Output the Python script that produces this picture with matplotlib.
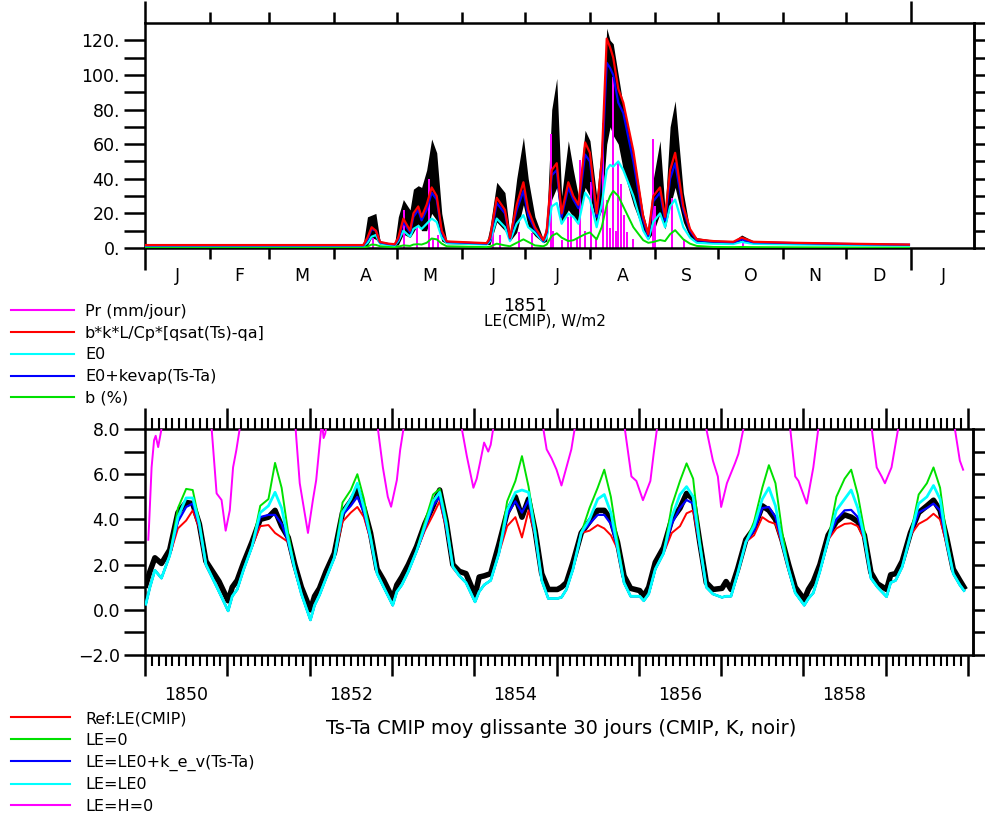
import numpy as np
import matplotlib
matplotlib.use("Agg")
import matplotlib.pyplot as plt
import matplotlib.transforms as mtransforms
from matplotlib.lines import Line2D

plt.rcParams["font.family"] = "DejaVu Sans"

# ----- top panel : LE 1851, x = days since 1 Jan 1851 -----
le_day = [0, 104, 106, 108, 110, 112, 116, 119,
          120.7, 123.1, 126.3, 127.9, 130.2, 131.8, 134.2, 136.6, 139, 141.4, 143.8,
          162.8, 164.4, 167.6, 171.5, 173.9, 177.1, 180.3, 182.6, 185.8, 189.8,
          191.4, 193.8, 196.2, 198.5, 201.7, 204.1, 206.5, 209.7, 212, 215.2,
          217.6, 220, 221.6, 223.1, 225.5, 227.9, 232.7, 237.4, 239.8,
          242.2, 245.4, 247.8, 250.2, 252.6, 256.5, 259.7, 262.9,
          270.8, 280.3, 284.3, 289.9, 310, 340, 364]
le_black_top = [2.2, 2.2, 18, 19, 20, 4, 3, 2.8,
                18, 28, 22, 34, 36, 35, 45, 63, 55, 20, 4,
                3.2, 12, 38, 32, 8, 40, 64, 40, 18, 5,
                15, 80, 98, 30, 62, 45, 30, 68, 62, 30,
                60, 127, 120, 118, 100, 82, 55, 20, 9,
                40, 62, 22, 70, 85, 32, 10, 6,
                4.5, 4, 7.5, 4, 3.2, 2.7, 2.4]
le_black_low = [1.0, 1.0, 1.5, 6, 5, 2, 1.8, 1.5,
                1.8, 8, 6, 9, 14, 10, 10, 20, 16, 4, 2.5,
                2.0, 2, 15, 10, 4, 9, 25, 12, 7, 3,
                4, 28, 35, 14, 22, 18, 15, 35, 30, 14,
                22, 60, 70, 65, 60, 45, 25, 10, 5,
                9, 20, 11, 24, 35, 15, 6, 3.5,
                3, 2.8, 4, 2.8, 2.2, 1.8, 1.5]
le_red = [1.7, 1.7, 6, 12, 10, 3.5, 2.5, 2.2,
          6, 17, 10, 20, 24, 18, 25, 35, 30, 10, 3.8,
          2.8, 6, 29, 22, 6, 25, 38, 22, 12, 4.5,
          10, 45, 49, 20, 38, 30, 25, 61, 55, 20,
          50, 121, 116, 110, 92, 84, 56, 18, 8,
          30, 35, 18, 45, 55, 24, 11, 5,
          4, 3.6, 6, 3.6, 3.0, 2.4, 2.0]
le_blue = [1.5, 1.5, 5, 11, 10, 3.2, 2.3, 2.0,
           5, 15, 9, 18, 22, 16, 22, 32, 28, 9, 3.5,
           2.5, 5, 26, 20, 5.5, 22, 33, 19, 11, 4,
           9, 42, 45, 18, 35, 28, 23, 54, 50, 18,
           45, 107, 104, 100, 84, 78, 50, 16, 7,
           27, 32, 16, 40, 49, 22, 10, 4.5,
           3.7, 3.3, 5, 3.3, 2.8, 2.2, 1.9]
le_cyan = [1.2, 1.2, 3, 6.5, 7.5, 2.5, 1.8, 1.5,
           4, 10, 6.5, 11, 12.7, 11, 14, 17, 15, 6, 2.8,
           2.0, 4, 17, 12, 4, 14, 19, 12, 9, 3.5,
           6, 24, 26, 14, 20, 18, 14, 32, 28, 12,
           25, 45, 48, 47, 50, 45, 30, 10, 5,
           15, 20, 12, 24, 28, 12, 6, 3,
           2.5, 2.3, 3.5, 2.4, 2.0, 1.7, 1.4]
le_green = [0.3, 0.3, 0.8, 2, 1.8, 1, 0.6, 0.5,
            0.8, 1.5, 1.2, 2, 2.2, 2, 3, 5.5, 5, 2.5, 1,
            0.5, 0.8, 2.5, 1.5, 1, 3, 5, 3.5, 1.5, 1,
            2, 7, 8.5, 6, 4, 4.5, 6, 8, 9, 5,
            12, 25, 30, 33, 30, 24, 12, 4.5, 3,
            3.5, 4.6, 4, 8, 10.3, 5, 2.5, 1.2,
            0.6, 0.5, 0.6, 0.5, 0.4, 0.3, 0.3]
pr_day = [108.6, 123.4, 129.6, 135.3, 137.2, 139.6, 165.8, 169.2, 178.2, 184.4,
          193.5, 194.4, 198.7, 201.6, 203.0, 205.9, 207.3, 209.7, 212.5, 214.9,
          218.2, 220.1, 221.6, 223.0, 224.4, 225.4, 226.8, 228.2, 229.7, 232.5,
          242.1, 243.0, 251.1, 256.8, 285.0]
pr_val = [5.5, 22, 12, 40, 5.6, 7.5, 9, 7.5, 9, 8.5,
          66, 10, 4.6, 18, 19, 5, 51, 10, 38, 6.5,
          72, 28, 11.5, 99, 10, 50, 37, 19, 9, 5,
          63, 24, 29, 5, 5]

month_bounds = [0, 31, 59, 90, 120, 151, 181, 212, 243, 273, 304, 334, 365]
month_names = ["J", "F", "M", "A", "M", "J", "J", "A", "S", "O", "N", "D", "J"]

# ----- bottom panel : Ts-Ta 30-day running mean, 1850-1859 -----
years = list(range(1850, 1860))
year_frac = [0.01, 0.06, 0.12, 0.2, 0.3, 0.4, 0.5, 0.58, 0.66, 0.74, 0.82, 0.9]
summer_idx = [5, 6, 7, 8, 9]
t_end = 1859.95

tsta_cyan = [
    [0.25, 1.0, 1.75, 1.4, 2.4, 4.1, 4.95, 4.95, 3.8, 2.0, 1.4, 0.8],
    [-0.05, 0.6, 0.9, 1.8, 2.8, 4.3, 4.6, 5.2, 4.5, 3.1, 1.8, 0.7],
    [-0.45, 0.2, 0.65, 1.4, 2.3, 4.3, 4.9, 5.6, 4.5, 3.2, 1.6, 1.0],
    [0.2, 0.8, 1.1, 1.7, 2.6, 3.7, 4.8, 5.2, 3.8, 1.9, 1.5, 1.2],
    [0.35, 0.8, 1.1, 1.3, 2.5, 4.4, 5.2, 5.3, 5.2, 3.4, 1.3, 0.5],
    [0.5, 0.55, 0.9, 1.8, 3.4, 4.0, 4.9, 5.1, 4.3, 2.8, 1.2, 0.6],
    [0.6, 0.4, 0.7, 1.8, 2.5, 4.1, 5.1, 5.45, 5.0, 2.9, 1.0, 0.7],
    [0.55, 0.6, 0.6, 1.6, 3.0, 3.7, 4.9, 5.4, 4.6, 3.0, 1.8, 0.75],
    [0.2, 0.5, 0.75, 1.7, 3.1, 4.4, 4.9, 5.3, 4.5, 3.2, 1.4, 1.0],
    [0.58, 1.2, 1.3, 1.9, 3.3, 4.7, 5.0, 5.5, 4.9, 3.0, 1.6, 1.1],
]
tsta_cyan_end = 0.85
tsta_black = [
    [1.1, 1.7, 2.3, 2.05, 2.65, 4.3, 4.75, 4.7, 3.8, 2.15, 1.7, 1.25],
    [0.4, 1.0, 1.3, 2.1, 3.0, 4.0, 4.1, 4.4, 3.7, 3.2, 2.0, 1.0],
    [0.0, 0.6, 0.95, 1.7, 2.5, 4.3, 4.8, 5.3, 4.5, 3.4, 1.8, 1.3],
    [0.5, 1.1, 1.45, 2.0, 2.8, 3.8, 4.6, 5.3, 3.9, 2.0, 1.7, 1.6],
    [0.65, 1.45, 1.5, 1.6, 2.9, 4.3, 5.0, 4.1, 4.9, 3.5, 1.6, 0.9],
    [0.9, 1.0, 1.2, 2.1, 3.4, 3.9, 4.4, 4.4, 4.0, 3.0, 1.5, 0.95],
    [0.85, 0.6, 1.0, 2.1, 2.75, 4.0, 4.5, 5.15, 4.9, 3.0, 1.2, 0.9],
    [0.95, 1.25, 0.9, 1.8, 3.1, 3.6, 4.6, 4.4, 4.0, 3.1, 2.0, 1.0],
    [0.45, 0.9, 1.25, 2.0, 3.3, 3.9, 4.2, 4.1, 3.9, 3.3, 1.65, 1.15],
    [0.9, 1.55, 1.6, 2.15, 3.4, 4.3, 4.6, 4.85, 4.4, 3.2, 1.8, 1.3],
]
tsta_black_end = 1.0
# summer values (fractions 0.4 .. 0.74) where the runs separate
tsta_red_summer = [
    [3.6, 3.95, 4.4, 3.6, 1.95], [3.7, 3.75, 3.4, 3.2, 3.0], [3.9, 4.3, 4.55, 4.1, 3.1],
    [3.5, 4.2, 4.8, 3.6, 1.85], [3.7, 4.1, 3.2, 4.4, 3.3], [3.5, 3.75, 3.6, 3.3, 2.7],
    [3.4, 3.7, 4.27, 4.4, 2.8], [3.3, 4.1, 3.9, 3.8, 2.9], [3.6, 3.8, 3.83, 3.7, 3.1],
    [3.8, 4.0, 4.25, 4.0, 2.9],
]
tsta_blue_summer = [
    [3.9, 4.55, 4.7, 3.7, 2.0], [4.1, 4.2, 4.2, 3.8, 3.0], [4.2, 4.6, 5.0, 4.3, 3.15],
    [3.6, 4.6, 5.0, 3.7, 1.9], [4.2, 4.8, 4.3, 4.85, 3.35], [3.8, 4.2, 4.2, 3.8, 2.75],
    [3.8, 4.5, 4.86, 4.7, 2.85], [3.5, 4.5, 4.55, 4.1, 2.95], [4.0, 4.4, 4.42, 4.1, 3.15],
    [4.3, 4.5, 4.7, 4.4, 2.95],
]
tsta_green_summer = [
    [4.5, 5.35, 5.3, 3.9, 2.05], [4.6, 4.9, 6.5, 5.4, 3.4], [4.75, 5.3, 6.0, 4.9, 3.3],
    [3.9, 5.1, 5.35, 4.0, 1.95], [4.8, 5.7, 6.8, 5.45, 3.6], [4.5, 5.4, 6.2, 5.0, 3.1],
    [4.6, 5.7, 6.48, 5.8, 3.1], [3.9, 5.4, 6.4, 5.6, 3.5], [5.0, 5.8, 6.2, 5.1, 3.5],
    [5.1, 5.6, 6.3, 5.4, 3.2],
]
# LE=H=0 run, only visible in winter (nan = above the frame)
lehz_t = [1850.04, 1850.05, 1850.08, 1850.11, 1850.13, 1850.16, 1850.18, 1850.2, np.nan,
          1850.81, 1850.87, 1850.93, 1850.98, 1851.03, 1851.07, 1851.11, 1851.15, np.nan,
          1851.83, 1851.88, 1851.98, 1852.04, 1852.08, 1852.14, 1852.15, 1852.17, 1852.19, 1852.21, np.nan,
          1852.83, 1852.89, 1852.95, 1852.99, 1853.06, 1853.1, 1853.14, np.nan,
          1853.85, 1853.91, 1853.99, 1854.03, 1854.07, 1854.12, 1854.17, 1854.2, 1854.23, np.nan,
          1854.84, 1854.88, 1854.94, 1855.0, 1855.06, 1855.12, 1855.18, 1855.22, np.nan,
          1855.83, 1855.91, 1855.97, 1856.05, 1856.14, 1856.18, 1856.22, np.nan,
          1856.82, 1856.9, 1856.96, 1857.0, 1857.07, 1857.17, 1857.21, 1857.27, np.nan,
          1857.84, 1857.9, 1857.94, 1858.04, 1858.12, 1858.18, np.nan,
          1858.83, 1858.89, 1858.95, 1858.99, 1859.07, 1859.15, np.nan,
          1859.84, 1859.9, 1859.94]
lehz_v = [3.1, 3.8, 6.3, 7.5, 7.7, 7.2, 7.6, 8.0, np.nan,
          8.0, 5.15, 4.86, 3.5, 4.4, 6.3, 7.07, 8.0, np.nan,
          8.0, 5.6, 3.4, 4.86, 5.74, 8.0, 8.3, 7.6, 7.8, 8.3, np.nan,
          8.0, 6.3, 5.0, 4.56, 5.74, 7.07, 8.0, np.nan,
          8.0, 6.8, 5.4, 5.8, 6.5, 7.4, 7.0, 7.3, 8.0, np.nan,
          8.0, 7.1, 6.7, 6.2, 5.5, 6.3, 7.1, 8.0, np.nan,
          8.0, 5.9, 5.7, 4.85, 5.7, 6.9, 8.0, np.nan,
          8.0, 6.6, 5.9, 4.55, 5.6, 6.5, 6.9, 8.0, np.nan,
          8.0, 5.9, 5.7, 4.7, 6.3, 8.0, np.nan,
          8.0, 6.3, 5.9, 5.6, 6.3, 8.0, np.nan,
          8.0, 6.6, 6.2]


def build(base_rows, summer_rows, end):
    out = []
    for i, row in enumerate(base_rows):
        r = list(row)
        if summer_rows is not None:
            for j, v in zip(summer_idx, summer_rows[i]):
                r[j] = v
        out += r
    return np.array(out + [end])


tt = np.array([y + f for y in years for f in year_frac] + [t_end])
ts_cyan = build(tsta_cyan, None, tsta_cyan_end)
ts_black = build(tsta_black, None, tsta_black_end)
ts_red = build(tsta_cyan, tsta_red_summer, tsta_cyan_end)
ts_blue = build(tsta_cyan, tsta_blue_summer, tsta_cyan_end)
ts_green = build(tsta_cyan, tsta_green_summer, tsta_cyan_end)

RED, GREEN, BLUE, CYAN, MAG = "#ff0000", "#00e000", "#0000ff", "#00ffff", "#ff00ff"
FS = 12.5
W, H = 985, 815

fig = plt.figure(figsize=(W / 100, H / 100), dpi=100)

# ================= top panel =================
ax1 = fig.add_axes([145 / W, 1 - 248 / H, 829 / W, 225 / H])
ax1.fill_between(le_day, le_black_low, le_black_top, color="black", lw=0, zorder=1)
ax1.bar(pr_day, pr_val, width=0.9, color=MAG, zorder=2)
ax1.plot(le_day, le_green, color=GREEN, lw=1.4, zorder=3)
ax1.plot(le_day, le_cyan, color=CYAN, lw=1.6, zorder=3)
ax1.plot(le_day, le_blue, color=BLUE, lw=1.6, zorder=3)
ax1.plot(le_day, le_red, color=RED, lw=1.6, zorder=3)
ax1.set_xlim(0, 395)
ax1.set_ylim(0, 130)

ax1.set_xticks([0, 365])
ax1.set_xticks(month_bounds, minor=True)
ax1.tick_params(axis="x", which="major", length=16, width=1.8, direction="out",
                top=True, bottom=True, labelbottom=False)
ax1.tick_params(axis="x", which="minor", length=8, width=1.8, direction="out",
                top=True, bottom=True)
trans1 = mtransforms.blended_transform_factory(ax1.transData, ax1.transAxes)
mids = [(month_bounds[i] + month_bounds[i + 1]) / 2 for i in range(12)] + [365 + 15.5]
for m, name in zip(mids, month_names):
    ax1.text(m, -0.124, name, transform=trans1, ha="center", va="center", fontsize=FS)

ax1.set_yticks(range(0, 121, 20))
ax1.set_yticklabels([f"{v}." for v in range(0, 121, 20)])
ax1.set_yticks(range(10, 121, 20), minor=True)
ax1.tick_params(axis="y", which="both", length=15, width=1.8, direction="out",
                right=False, labelsize=FS, pad=3)
ax1r = ax1.secondary_yaxis("right")
ax1r.set_yticks(range(0, 131, 10))
ax1r.tick_params(axis="y", length=11, width=1.8, direction="out", labelright=False)
ax1r.spines["right"].set_linewidth(1.8)
for s in ax1.spines.values():
    s.set_linewidth(1.8)

fig.text(525 / W, 1 - 306 / H, "1851", ha="center", va="center", fontsize=12.5)
fig.text(545 / W, 1 - 321 / H, "LE(CMIP), W/m2", ha="center", va="center", fontsize=11)

top_handles = [Line2D([], [], color=c, lw=1.5) for c in (MAG, RED, CYAN, BLUE, GREEN)]
top_labels = ["Pr (mm/jour)", "b*k*L/Cp*[qsat(Ts)-qa]", "E0", "E0+kevap(Ts-Ta)", "b (%)"]
fig.legend(top_handles, top_labels, loc="upper left", bbox_to_anchor=(11 / W, 1 - 304 / H),
           frameon=False, fontsize=11.5, handlelength=3.94, handletextpad=0.69,
           labelspacing=0.42, borderpad=0, borderaxespad=0)

# ================= bottom panel =================
ax2 = fig.add_axes([145 / W, 1 - 655 / H, 828 / W, 226 / H])
ax2.plot(tt, ts_black, color="black", lw=4, zorder=2)
ax2.plot(tt, ts_red, color=RED, lw=1.4, zorder=3)
ax2.plot(tt, ts_green, color=GREEN, lw=1.4, zorder=3)
ax2.plot(tt, ts_blue, color=BLUE, lw=1.6, zorder=3)
ax2.plot(tt, ts_cyan, color=CYAN, lw=2.0, zorder=4)
ax2.plot(lehz_t, lehz_v, color=MAG, lw=1.4, zorder=4)
ax2.set_xlim(1850, 1860.06)
ax2.set_ylim(-2, 8)

ax2.set_xticks(range(1850, 1861))
ax2.set_xticks(np.arange(1850, 1860.001, 1 / 12), minor=True)
ax2.tick_params(axis="x", which="major", length=15, width=1.8, direction="out",
                top=True, bottom=True, labelbottom=False)
ax2.tick_params(axis="x", which="minor", length=8, width=1.5, direction="out",
                top=True, bottom=True)
trans2 = mtransforms.blended_transform_factory(ax2.transData, ax2.transAxes)
for y in range(1850, 1860, 2):
    ax2.text(y + 0.5, -0.177, str(y), transform=trans2, ha="center", va="center", fontsize=FS)

ax2.set_yticks(range(-2, 9, 2))
ax2.set_yticklabels([f"{v:.1f}".replace("-", "\u2212") for v in range(-2, 9, 2)])
ax2.set_yticks(range(-1, 8, 2), minor=True)
ax2.tick_params(axis="y", which="both", length=15, width=1.8, direction="out",
                right=False, labelsize=FS, pad=3)
ax2r = ax2.secondary_yaxis("right")
ax2r.set_yticks(range(-2, 9))
ax2r.tick_params(axis="y", length=12, width=1.8, direction="out", labelright=False)
ax2r.spines["right"].set_linewidth(1.8)
for s in ax2.spines.values():
    s.set_linewidth(1.8)

fig.text(561 / W, 1 - 729 / H, "Ts-Ta CMIP moy glissante 30 jours (CMIP, K, noir)",
         ha="center", va="center", fontsize=14)

bot_handles = [Line2D([], [], color=c, lw=1.5) for c in (RED, GREEN, BLUE, CYAN, MAG)]
bot_labels = ["Ref:LE(CMIP)", "LE=0", "LE=LE0+k_e_v(Ts-Ta)", "LE=LE0", "LE=H=0"]
fig.legend(bot_handles, bot_labels, loc="upper left", bbox_to_anchor=(11 / W, 1 - 711 / H),
           frameon=False, fontsize=11.5, handlelength=3.7, handletextpad=0.94,
           labelspacing=0.42, borderpad=0, borderaxespad=0)

fig.savefig("out.png", dpi=100)
